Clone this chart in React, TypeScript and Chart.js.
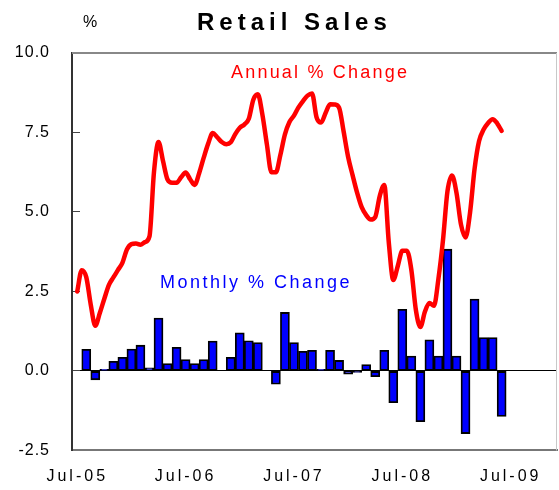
import React, { useEffect, useRef } from 'react';
import { Chart, registerables } from 'chart.js';

Chart.register(...registerables);

// X axis: months counted from Jul-05 (0)
const tickLabels = ['Jul-05', 'Jul-06', 'Jul-07', 'Jul-08', 'Jul-09'];
const tickMonths = [0, 12, 24, 36, 48];

// Monthly % change, Aug-05 .. Jun-09
const monthlyStartMonth = 1;
const monthlyChange = [
  0.68, -0.28, 0.05, 0.3, 0.43, 0.69, 0.81, 0.1, 1.66, 0.23, 0.74, 0.36,
  0.23, 0.36, 0.94, 0, 0.43, 1.2, 0.95, 0.89, 0, -0.42, 1.84, 0.89,
  0.62, 0.65, 0.05, 0.65, 0.33, -0.1, -0.05, 0.2, -0.18, 0.65, -1.0, 1.94,
  0.47, -1.6, 0.98, 0.47, 3.83, 0.47, -1.97, 2.26, 1.05, 1.05, -1.43,
];

// Annual % change, half-month steps from Jul-05
const annualStep = 0.5;
const annualChange = [
  2.5, 3.17, 2.95, 2.08, 1.42, 1.82, 2.27, 2.7, 2.94, 3.17,
  3.4, 3.82, 3.99, 4.01, 3.97, 4.05, 4.23, 6.26, 7.2, 6.6,
  6.02, 5.92, 5.92, 6.09, 6.24, 6.03, 5.85, 6.22, 6.7, 7.15,
  7.48, 7.35, 7.2, 7.13, 7.19, 7.45, 7.65, 7.75, 7.93, 8.53,
  8.7, 8.07, 7.13, 6.25, 6.25, 6.8, 7.44, 7.83, 8.03, 8.29,
  8.49, 8.66, 8.73, 7.98, 7.81, 8.11, 8.39, 8.38, 8.28, 7.53,
  6.73, 6.15, 5.6, 5.15, 4.9, 4.76, 4.84, 5.5, 5.85, 4.05,
  2.86, 3.3, 3.78, 3.78, 3.18, 1.92, 1.38, 1.86, 2.14, 2.05,
  2.9, 4.1, 5.65, 6.15, 5.6, 4.6, 4.2, 4.98, 6.35, 7.23,
  7.59, 7.8, 7.92, 7.79, 7.55,
];

const FONT = '"Liberation Sans", Arial, Helvetica, sans-serif';

export default function App() {
  const ref = useRef<HTMLCanvasElement>(null);

  useEffect(() => {
    const canvas = ref.current;
    if (!canvas) return;

    const textPlugin = {
      id: 'texts',
      afterDraw(chart: any) {
        const ctx = chart.ctx as any;
        ctx.save();
        ctx.textBaseline = 'alphabetic';
        ctx.textAlign = 'left';
        const draw = (t: string, x: number, y: number, font: string, color: string, sp: string) => {
          ctx.font = font;
          ctx.fillStyle = color;
          ctx.letterSpacing = sp;
          ctx.fillText(t, x, y);
        };
        draw('Retail Sales', 197, 30, `bold 24px ${FONT}`, '#000000', '5px');
        draw('%', 83, 27, `16px ${FONT}`, '#000000', '0px');
        draw('Annual % Change', 231, 78, `18px ${FONT}`, '#ff0000', '2.2px');
        draw('Monthly % Change', 160, 288, `18px ${FONT}`, '#0000ff', '2.5px');
        ctx.restore();
      },
    };

    const framePlugin = {
      id: 'frame',
      beforeDatasetsDraw(chart: any) {
        const { ctx, chartArea: a } = chart;
        ctx.save();
        ctx.strokeStyle = '#888888';
        ctx.lineWidth = 2;
        ctx.beginPath();
        ctx.moveTo(a.left, a.top);
        ctx.lineTo(a.right, a.top);
        ctx.stroke();
        ctx.strokeStyle = '#c8c8c8';
        ctx.lineWidth = 1;
        ctx.beginPath();
        ctx.moveTo(a.right - 0.5, a.top);
        ctx.lineTo(a.right - 0.5, a.bottom);
        ctx.stroke();
        ctx.restore();
      },
    };

    const spacingPlugin = {
      id: 'tickSpacing',
      afterLayout(chart: any) {
        for (const id of ['x', 'y']) {
          const s = chart.scales[id];
          if (!s || s._spacingWrapped) continue;
          const orig = s.drawLabels.bind(s);
          const sp = id === 'x' ? '3px' : '1px';
          s.drawLabels = (area: any) => {
            const c = chart.ctx as any;
            c.save();
            c.letterSpacing = sp;
            orig(area);
            c.restore();
          };
          s._spacingWrapped = true;
        }
      },
    };

    const chart = new Chart(canvas, {
      type: 'bar',
      data: {
        datasets: [
          {
            type: 'line',
            label: 'Annual % Change',
            data: annualChange.map((v, i) => ({ x: i * annualStep, y: v })),
            borderColor: '#ff0000',
            backgroundColor: '#ff0000',
            borderWidth: 4.5,
            pointRadius: 0,
            tension: 0.3,
            cubicInterpolationMode: 'monotone',
            borderJoinStyle: 'round',
            borderCapStyle: 'round',
            order: 0,
          } as any,
          {
            type: 'bar',
            label: 'Monthly % Change',
            data: monthlyChange.map((v, i) => ({ x: monthlyStartMonth + i, y: v })),
            backgroundColor: '#0000ff',
            borderColor: '#000000',
            borderWidth: 1.8,
            borderSkipped: false,
            barPercentage: 1,
            categoryPercentage: 1,
            order: 1,
          } as any,
        ],
      },
      options: {
        animation: false,
        responsive: false,
        layout: { padding: { top: 53, right: 2, left: 0, bottom: 0 } },
        plugins: {
          legend: { display: false },
          title: { display: false },
          tooltip: { enabled: false },
        },
        scales: {
          x: {
            type: 'linear',
            min: -0.58,
            max: 53.13,
            offset: false,
            afterBuildTicks: (s: any) => {
              s.ticks = tickMonths.map((v) => ({ value: v }));
            },
            afterFit: (s: any) => {
              s.height = 37;
            },
            grid: {
              display: true,
              drawOnChartArea: false,
              drawTicks: false,
              offset: false,
              color: 'rgba(0,0,0,0)',
            },
            border: { color: '#777777', width: 2 },
            ticks: {
              autoSkip: false,
              maxRotation: 0,
              padding: 17,
              color: '#000000',
              font: { family: FONT, size: 16 },
              callback: (v: any) => {
                const i = tickMonths.indexOf(Number(v));
                return i >= 0 ? tickLabels[i] : '';
              },
            },
          } as any,
          y: {
            min: -2.5,
            max: 10,
            afterFit: (s: any) => {
              s.width = 72;
            },
            ticks: {
              stepSize: 2.5,
              padding: 30,
              color: '#000000',
              font: { family: FONT, size: 16 },
              callback: (v: any) => Number(v).toFixed(1),
            },
            grid: {
              color: (c: any) => (c.tick && c.tick.value === 0 ? '#000000' : 'rgba(0,0,0,0)'),
              tickColor: '#444444',
              tickLength: -8,
              lineWidth: 1,
            },
            border: { color: '#333333', width: 2 },
          } as any,
        },
      },
      plugins: [framePlugin, spacingPlugin, textPlugin],
    });

    return () => chart.destroy();
  }, []);

  return (
    <div style={{ position: 'absolute', left: 0, top: 0, width: 559, height: 490, background: '#ffffff' }}>
      <canvas ref={ref} width={559} height={490} style={{ display: 'block' }} />
    </div>
  );
}
